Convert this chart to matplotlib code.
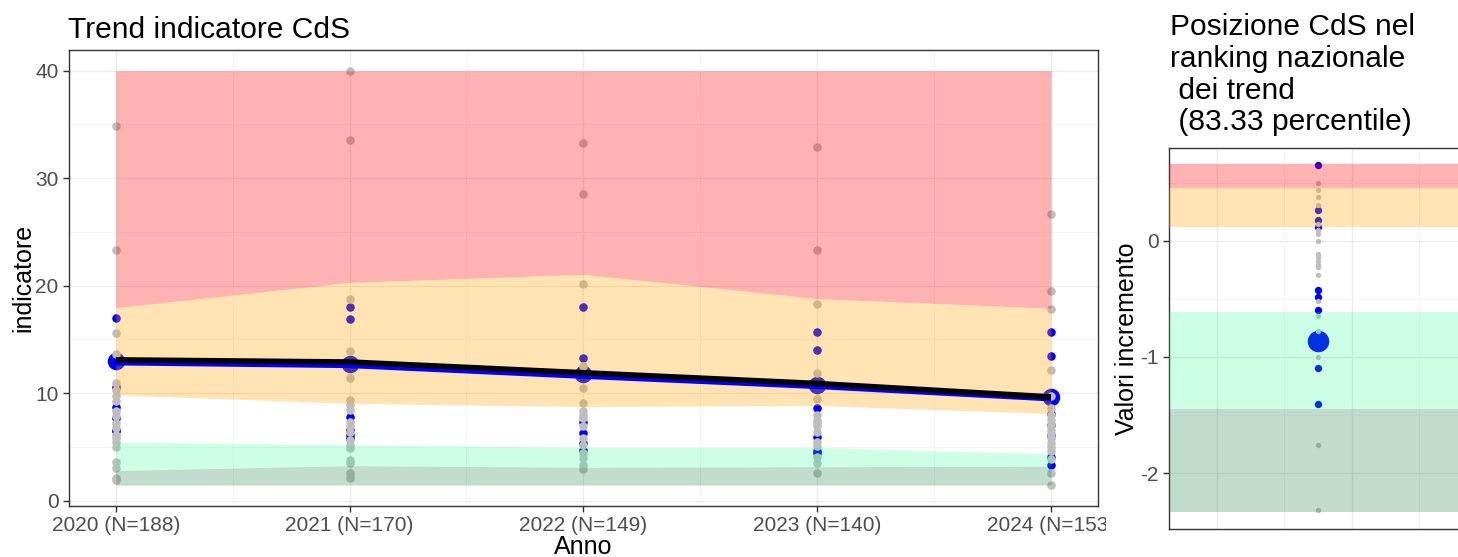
import matplotlib
matplotlib.use("Agg")
import matplotlib.pyplot as plt
from matplotlib.patches import Rectangle
import numpy as np

plt.rcParams['font.family'] = ['Liberation Sans', 'DejaVu Sans']
plt.rcParams['axes.unicode_minus'] = False

# ---- data: left panel (trend) ----
years = [2020, 2021, 2022, 2023, 2024]
year_labels = ['2020 (N=188)', '2021 (N=170)', '2022 (N=149)', '2023 (N=140)', '2024 (N=153)']

# band edges per year
red_top = [40, 40, 40, 40, 40]
orange_top = [17.95, 20.3, 21.05, 18.8, 17.9]
white_top = [9.85, 9.05, 8.75, 8.85, 8.1]
green_top = [5.45, 5.2, 4.95, 4.95, 4.35]
dkgreen_top = [2.8, 3.25, 3.1, 3.15, 3.2]
dkgreen_bottom = [1.45, 1.45, 1.45, 1.45, 1.45]

# other CdS (gray) and same-class CdS (blue)
gray_2020 = [34.9, 23.3, 15.6, 13.6, 10.9, 10.3, 9.7, 9.3, 8.3, 7.9, 7.2, 6.8, 6.1, 5.8, 5.5, 5.0, 3.6, 3.0, 2.1, 1.9]
gray_2021 = [40.0, 33.6, 18.8, 13.9, 11.4, 9.4, 8.9, 8.4, 7.3, 6.9, 6.4, 5.6, 5.2, 4.9, 3.8, 3.5, 2.6, 2.1]
gray_2022 = [33.3, 28.5, 20.2, 12.5, 10.5, 9.1, 8.3, 8.0, 7.7, 6.9, 5.8, 5.2, 4.4, 4.0, 3.3, 2.9]
gray_2023 = [32.9, 23.3, 18.3, 11.85, 9.5, 8.0, 7.5, 7.2, 6.9, 6.4, 5.5, 5.1, 4.1, 3.5, 2.55]
gray_2024 = [26.7, 19.5, 17.8, 12.2, 9.7, 8.6, 8.0, 7.5, 7.0, 6.6, 6.2, 5.8, 5.4, 5.0, 4.6, 3.9, 2.55, 1.45]
blue_2020 = [17.0, 10.6, 8.75, 7.7, 6.6, 6.5]
blue_2021 = [18.0, 16.9, 7.8, 6.6, 6.1, 5.8]
blue_2022 = [18.0, 13.25, 7.35, 6.3, 5.35, 4.75]
blue_2023 = [15.7, 14.0, 8.6, 5.95, 4.6, 4.4]
blue_2024 = [15.7, 13.5, 8.1, 7.0, 6.1, 4.1, 3.3]

cds_values = [12.95, 12.75, 11.75, 10.8, 9.68]
cds_line = [12.8, 12.55, 11.55, 10.6, 9.45]
trend_line = [13.1, 12.9, 11.9, 10.9, 9.65]

# ---- data: right panel (ranking of trends) ----
rank_red = (0.456, 0.657)
rank_orange = (0.12, 0.456)
rank_green = (-1.447, -0.61)
rank_dkgreen = (-2.33, -1.447)
rank_gray = [0.50, 0.44, 0.376, 0.305, 0.14, 0.09, 0.057, 0.0, -0.114, -0.137, -0.171,
             -0.208, -0.228, -0.293, -0.52, -0.65, -0.78, -1.0, -1.76, -2.316]
rank_blue = [0.65, 0.268, 0.177, 0.12, -0.42, -0.487, -0.595, -1.094, -1.405]
rank_cds = -0.863

title_lines = ['Posizione CdS nel', 'ranking nazionale', ' dei trend', ' (83.33 percentile)']

W, H = 1458, 557
fig = plt.figure(figsize=(W / 100, H / 100), dpi=100)

def px_axes(left, top, right, bottom):
    return fig.add_axes([left / W, 1 - bottom / H, (right - left) / W, (bottom - top) / H])

def style_axes(ax):
    for sp in ax.spines.values():
        sp.set_color('#333333')
        sp.set_linewidth(1.0)
    ax.tick_params(colors='#333333', labelcolor='#4D4D4D', labelsize=15, length=4, width=1)
    ax.grid(which='major', color='#EBEBEB', linewidth=1.0, zorder=0)
    ax.grid(which='minor', color='#F2F2F2', linewidth=0.6, zorder=0)
    ax.tick_params(which='minor', length=0)
    ax.set_axisbelow(True)

GRAY = '#BEBEBE'
BLUE = '#0000FF'

# ---- left panel ----
ax = px_axes(69, 50, 1097.7, 505.8)
ax.set_zorder(0)
style_axes(ax)

blues = [blue_2020, blue_2021, blue_2022, blue_2023, blue_2024]
grays = [gray_2020, gray_2021, gray_2022, gray_2023, gray_2024]
ax.scatter(years, cds_values, s=160, color=BLUE, linewidths=0, zorder=2)
for yr, vals in zip(years, blues):
    ax.scatter([yr] * len(vals), vals, s=38, color=BLUE, linewidths=0, zorder=2)
for yr, vals in zip(years, grays):
    ax.scatter([yr] * len(vals), vals, s=38, color=GRAY, linewidths=0, zorder=3)

ax.fill_between(years, orange_top, red_top, color='#FF0000', alpha=0.3, linewidth=0, zorder=4)
ax.fill_between(years, white_top, orange_top, color='#FFA500', alpha=0.3, linewidth=0, zorder=4)
ax.fill_between(years, dkgreen_top, green_top, color='#00FF7F', alpha=0.2, linewidth=0, zorder=4)
ax.fill_between(years, dkgreen_bottom, dkgreen_top, color='#2E8B57', alpha=0.3, linewidth=0, zorder=4)

ax.plot(years, cds_line, color=BLUE, linewidth=3.4, zorder=5, solid_capstyle='butt')
ax.plot(years, trend_line, color='black', linewidth=4.0, zorder=6, solid_capstyle='butt')

ax.set_xlim(2019.8, 2024.2)
ax.set_ylim(-0.48, 41.93)
ax.set_xticks(years)
ax.set_xticklabels(year_labels)
ax.set_xticks([2020.5, 2021.5, 2022.5, 2023.5], minor=True)
ax.set_yticks([0, 10, 20, 30, 40])
ax.set_yticks([5, 15, 25, 35], minor=True)
ax.set_xlabel('Anno', fontsize=18, labelpad=0)
ax.set_ylabel('indicatore', fontsize=18, labelpad=0)
fig.text(68 / W, 1 - 38 / H, 'Trend indicatore CdS', fontsize=21.6, va='baseline', ha='left')

# white strip that clips the last x label, like the original layout
fig.patches.append(Rectangle((1106 / W, 0), 1 - 1106 / W, 1, transform=fig.transFigure,
                             facecolor='white', edgecolor='none', zorder=0.5))

# ---- right panel ----
ax2 = px_axes(1169, 148, 1460, 529)
ax2.set_zorder(1)
style_axes(ax2)

ax2.scatter([0], [rank_cds], s=240, color=BLUE, linewidths=0, zorder=2)
ax2.scatter([0] * len(rank_blue), rank_blue, s=28, color=BLUE, linewidths=0, zorder=2)
ax2.scatter([0] * len(rank_gray), rank_gray, s=15, color=GRAY, linewidths=0, zorder=3)

ax2.axhspan(*rank_red, color='#FF0000', alpha=0.3, linewidth=0, zorder=4)
ax2.axhspan(*rank_orange, color='#FFA500', alpha=0.3, linewidth=0, zorder=4)
ax2.axhspan(*rank_green, color='#00FF7F', alpha=0.2, linewidth=0, zorder=4)
ax2.axhspan(*rank_dkgreen, color='#2E8B57', alpha=0.3, linewidth=0, zorder=4)

ax2.set_xlim(-0.512, 0.488)
ax2.set_ylim(-2.479, 0.797)
ax2.set_xticks([-0.347, 0.117])
ax2.set_xticks([-0.117, 0.347], minor=True)
ax2.tick_params(axis='x', length=0, labelbottom=False)
ax2.set_yticks([0, -1, -2])
ax2.set_yticks([0.5, -0.5, -1.5], minor=True)
ax2.set_ylabel('Valori incremento', fontsize=18, labelpad=1)

for i, line in enumerate(title_lines):
    fig.text(1170 / W, 1 - (35 + 31.8 * i) / H, line, fontsize=21.6, va='baseline', ha='left')

fig.savefig('out.png', dpi=100, facecolor='white')
